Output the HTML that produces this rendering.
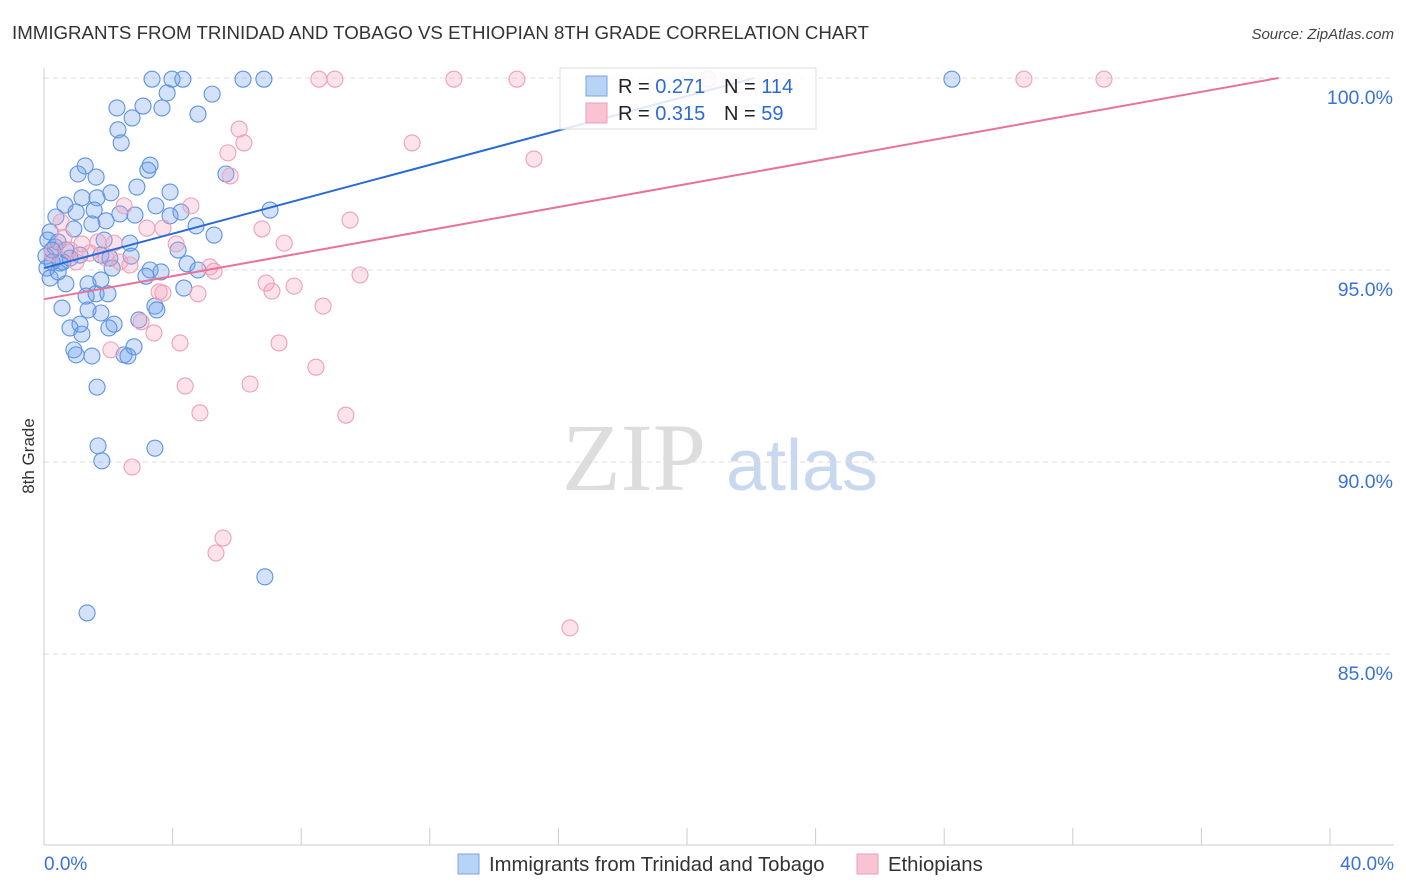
<!DOCTYPE html>
<html><head><meta charset="utf-8"><style>
body{margin:0;background:#fff;font-family:"Liberation Sans",sans-serif;}
#wrap{position:relative;width:1406px;height:892px;overflow:hidden;}
</style></head><body>
<div id="wrap">
<svg id="svg" width="1406" height="892" xmlns="http://www.w3.org/2000/svg">
<text x="12" y="39" font-size="18.7" fill="#333">IMMIGRANTS FROM TRINIDAD AND TOBAGO VS ETHIOPIAN 8TH GRADE CORRELATION CHART</text>
<text x="1394" y="39" font-size="15" fill="#444" font-style="italic" text-anchor="end">Source: ZipAtlas.com</text>
<text transform="translate(34,456) rotate(-90)" font-size="17" fill="#333" text-anchor="middle">8th Grade</text>
<g>
<text x="634" y="490" font-size="96" fill="#ddd" font-family="Liberation Serif,serif" text-anchor="middle">ZIP</text>
<text x="802" y="490" font-size="72" fill="#c8d8ee" text-anchor="middle">atlas</text>
</g>
<g id="grid"></g><g id="axes"></g><g id="pts"></g><g id="lines"></g>
<g>
<rect x="560" y="68" width="256" height="61" fill="rgba(255,255,255,0.85)" stroke="#ddd"/>
<rect x="586" y="76" width="21" height="20" fill="#b8d3f5" stroke="#7aa6e8"/>
<rect x="586" y="103" width="21" height="20" fill="#f9c3d3" stroke="#ef9fb9"/>
<text x="618" y="93" font-size="20" fill="#222">R = <tspan fill="#2a6ad6">0.271</tspan></text>
<text x="724" y="93" font-size="20" fill="#222">N = <tspan fill="#2a6ad6">114</tspan></text>
<text x="618" y="120" font-size="20" fill="#222">R = <tspan fill="#2a6ad6">0.315</tspan></text>
<text x="724" y="120" font-size="20" fill="#222">N = <tspan fill="#2a6ad6"> 59</tspan></text>
</g>
<g>
<rect x="458" y="854" width="21" height="20" fill="#b8d3f5" stroke="#7aa6e8"/>
<text x="489" y="871" font-size="20.3" fill="#333">Immigrants from Trinidad and Tobago</text>
<rect x="857" y="854" width="21" height="20" fill="#f9c3d3" stroke="#ef9fb9"/>
<text x="888" y="871" font-size="20.3" fill="#333">Ethiopians</text>
</g>
</svg>
</div>
<script>
const blueX=[3.36,3.98,4.32,6.19,6.84,28.24,3.83,5.23,2.27,3.08,3.67,4.79,2.74,2.30,2.40,1.28,3.30,3.23,1.06,1.62,5.66,2.89,2.08,3.92,1.18,1.65,0.65,3.48,1.56,4.26,7.03,0.37,1.00,2.36,2.83,3.92,1.93,4.73,5.29,0.19,0.93,1.49,0.44,1.87,2.67,4.17,0.25,1.12,1.77,2.71,0.59,2.05,4.45,3.30,0.09,2.12,3.64,4.79,3.17,0.19,0.68,1.37,1.77,4.35,1.62,1.99,1.31,3.45,0.56,1.37,3.51,1.77,2.18,1.12,0.81,2.02,2.95,1.18,0.93,1.00,1.49,2.49,2.61,2.80,1.65,1.68,3.45,1.80,6.87,1.34,0.12,0.34,0.06,0.50,0.68,0.25,0.44,0.81];
const blueY=[99.97,99.97,99.97,99.97,99.97,99.97,99.61,99.58,99.22,99.27,99.22,99.06,98.96,98.65,98.31,97.71,97.73,97.60,97.50,97.42,97.50,97.16,97.01,97.03,96.88,96.88,96.69,96.67,96.56,96.51,96.56,96.38,96.51,96.46,96.43,96.41,96.28,96.15,95.91,95.99,96.07,96.20,95.73,95.78,95.70,95.52,95.52,95.39,95.39,95.36,95.21,95.31,95.16,95.00,95.05,95.05,94.95,95.00,94.84,94.79,94.64,94.64,94.74,94.53,94.38,94.38,94.32,94.06,94.01,93.96,93.96,93.88,93.59,93.59,93.49,93.49,93.70,93.33,92.92,92.79,92.76,92.79,92.76,93.00,91.95,90.42,90.36,90.03,87.01,86.07,95.78,95.60,95.36,95.18,95.52,95.21,94.95,95.31];
const pinkX=[8.55,9.05,12.75,14.71,20.65,30.48,32.97,6.07,6.22,11.45,5.72,15.24,5.79,4.57,2.49,0.53,9.52,6.78,3.20,3.70,0.62,1.18,1.68,2.18,4.11,7.47,1.93,2.36,2.67,5.16,9.83,6.91,7.09,7.78,3.58,4.79,3.70,8.68,3.02,3.42,4.23,7.31,8.46,4.39,6.41,4.85,9.39,2.08,2.74,5.57,5.35,16.36,1.43,1.00,0.25,0.81,5.29];
const pinkY=[99.97,99.97,99.97,99.97,99.97,99.97,99.97,98.67,98.31,98.31,98.05,97.89,97.45,96.67,96.67,96.25,96.30,96.07,96.09,96.09,95.83,95.68,95.73,95.70,95.68,95.70,95.31,95.21,95.13,95.08,94.87,94.66,94.45,94.58,94.43,94.38,94.40,94.06,93.65,93.36,93.10,93.10,92.47,91.98,92.03,91.28,91.22,92.92,89.87,88.02,87.63,85.68,95.44,95.21,95.44,95.52,94.97];
const yTicks=[100,95,90,85];
const yTickLabels=["100.0%","95.0%","90.0%","85.0%"];
const xTicks=[0,4,8,12,16,20,24,28,32,36,40];
const blueTrend=[95.05,0.224];
const pinkTrend=[94.24,0.150];
const X=v=>44+v*(1286/40);
const Y=v=>78+(100-v)*(192/5);
const NS="http://www.w3.org/2000/svg";
function mk(tag,attrs,parent){const e=document.createElementNS(NS,tag);for(const k in attrs)e.setAttribute(k,attrs[k]);document.getElementById(parent).appendChild(e);return e;}
yTicks.forEach((t,i)=>{
 const l=mk('line',{x1:44,x2:1394,y1:Y(t),y2:Y(t),stroke:'#ddd','stroke-dasharray':'5,4'},'grid');
 
 
 const tx=mk('text',{x:1393,y:Y(t)+26,'font-size':19.5,fill:'#3a72d8','text-anchor':'end'},'grid');
 tx.textContent=yTickLabels[i];
 
 
});
let a=mk('line',{x1:44,x2:44,y1:68,y2:845,stroke:'#ccc'},'axes');


a=mk('line',{x1:44,x2:1394,y1:845,y2:845,stroke:'#ccc'},'axes');


xTicks.forEach(t=>{
 const l=mk('line',{x1:X(t),x2:X(t),y1:828,y2:845,stroke:'#ccc'},'axes');
 
 
});
let t0=mk('text',{x:44,y:870,'font-size':19,fill:'#3a72d8'},'axes');t0.textContent='0.0%';


let t1=mk('text',{x:1394,y:870,'font-size':19,fill:'#3a72d8','text-anchor':'end'},'axes');t1.textContent='40.0%';


blueX.forEach((x,i)=>{
 const c=mk('circle',{cx:X(x),cy:Y(blueY[i]),r:8,fill:'rgba(110,160,235,0.3)',stroke:'#5e93e0','stroke-width':1.1},'pts');
 
 
});
pinkX.forEach((x,i)=>{
 const c=mk('circle',{cx:X(x),cy:Y(pinkY[i]),r:8,fill:'rgba(245,160,190,0.3)',stroke:'#eda0b9','stroke-width':1.1},'pts');
 
 
});
function trend(tr,col,name){
 const xe=Math.min(40,(100-tr[0])/tr[1]);
 const l=mk('line',{x1:X(0),y1:Y(tr[0]),x2:X(xe),y2:Y(tr[0]+tr[1]*xe),stroke:col,'stroke-width':2},'lines');
 
 
}
trend(blueTrend,'#2a6ad6','trend-line-trinidad');
trend(pinkTrend,'#e8729a','trend-line-ethiopian');
</script>
</body></html>
